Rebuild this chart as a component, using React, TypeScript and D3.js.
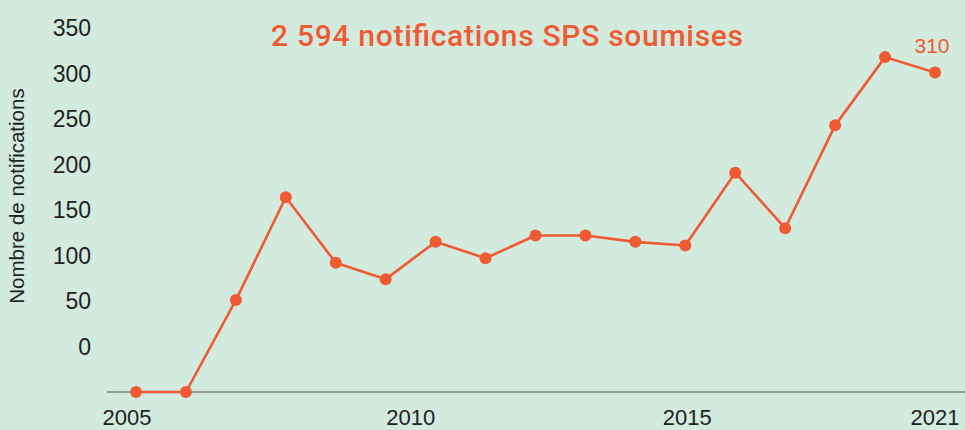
import React from "react";
import * as d3 from "d3";

const years = [2005, 2006, 2007, 2008, 2009, 2010, 2011, 2012, 2013, 2014, 2015, 2016, 2017, 2018, 2019, 2020, 2021];
const notifications = [-50, -50, 51, 164, 92, 74, 115, 97, 122, 122, 115, 111, 191, 130, 243, 318, 301];
const yTicks = [0, 50, 100, 150, 200, 250, 300, 350];
const xTickLabels = ["2005", "2010", "2015", "2021"];
const xTickAt = [2004.82, 2010.5, 2016.04, 2021];
const title = "2 594 notifications SPS soumises";
const lastLabel = "310";
const yAxisTitle = "Nombre de notifications";

const W = 965;
const H = 430;
const BG = "#d3eadf";
const ORANGE = "#f05a33";
const INK = "#222222";
const FONT = "'Liberation Sans', Arial, sans-serif";

const App = () => {
  React.useEffect(() => {
    document.body.style.margin = "0";
  }, []);

  const x = d3.scaleLinear().domain([2005, 2021]).range([136, 935]);
  const y = d3.scaleLinear().domain([-50, 350]).range([392, 28]);

  const line = d3
    .line<number>()
    .x((_, i) => x(years[i]))
    .y((d) => y(d));

  const lastI = years.length - 1;

  return (
    <svg width={W} height={H} style={{ display: "block" }}>
      <rect width={W} height={H} fill={BG} />

      <text
        x={507}
        y={46}
        textAnchor="middle"
        fill={ORANGE}
        fontFamily="Roboto, 'Liberation Sans', sans-serif"
        fontWeight={500}
        fontSize={30}
        textLength={472}
        lengthAdjust="spacing"
      >
        {title}
      </text>

      <text
        transform={`translate(24, 196) rotate(-90)`}
        textAnchor="middle"
        fill={INK}
        fontFamily={FONT}
        fontSize={20.5}
      >
        {yAxisTitle}
      </text>

      {yTicks.map((t) => (
        <text
          key={t}
          x={91}
          y={y(t)}
          dy="0.36em"
          textAnchor="end"
          fill={INK}
          fontFamily={FONT}
          fontSize={23}
        >
          {t}
        </text>
      ))}

      <line x1={107} x2={W} y1={y(-50)} y2={y(-50)} stroke="#7a7f7c" strokeWidth={1.6} />

      {xTickLabels.map((lab, i) => (
        <text
          key={lab}
          x={x(xTickAt[i])}
          y={425}
          textAnchor="middle"
          fill={INK}
          fontFamily={FONT}
          fontSize={22}
        >
          {lab}
        </text>
      ))}

      <path d={line(notifications) || ""} fill="none" stroke={ORANGE} strokeWidth={2.6} strokeLinejoin="round" />

      {notifications.map((v, i) => (
        <circle key={years[i]} cx={x(years[i])} cy={y(v)} r={6} fill={ORANGE} />
      ))}

      <text
        x={x(years[lastI]) - 3}
        y={53}
        textAnchor="middle"
        fill={ORANGE}
        fontFamily={FONT}
        fontSize={21}
      >
        {lastLabel}
      </text>
    </svg>
  );
};

export default App;
